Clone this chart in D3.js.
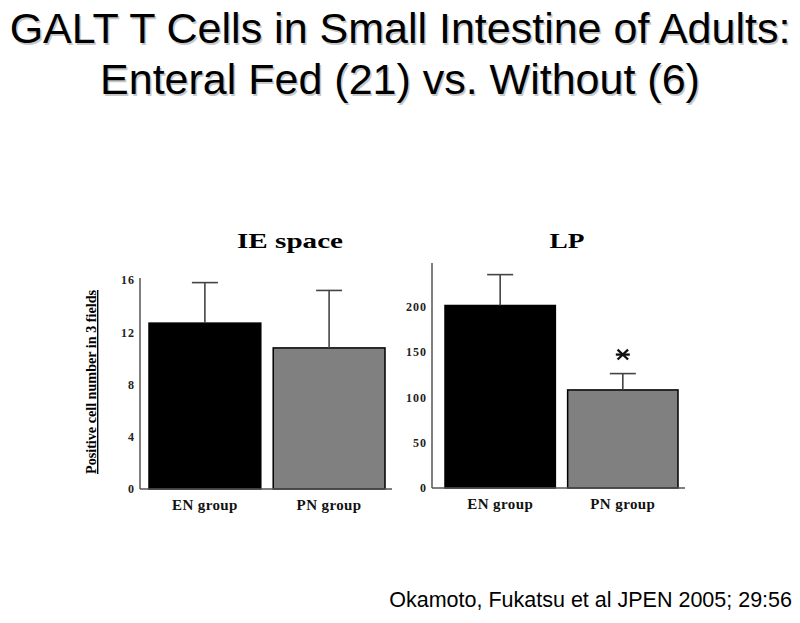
<!DOCTYPE html>
<html>
<head>
<meta charset="utf-8">
<script src="https://cdn.jsdelivr.net/npm/d3@7"></script>
<style>
  html, body { margin: 0; padding: 0; background: #fff; }
  svg { display: block; }
</style>
</head>
<body>
<svg id="chart" width="800" height="623"></svg>
<script>
// ---- data ----
const titleLines = ["GALT T Cells in Small Intestine of Adults:", "Enteral Fed (21) vs. Without (6)"];
const citation = "Okamoto, Fukatsu et al JPEN 2005; 29:56";
const categories = ["EN group", "PN group"];
const ieTitle = "IE space";
const ieMeans = [12.7, 10.8];
const ieErrTop = [15.8, 15.2];
const ieTicks = [0, 4, 8, 12, 16];
const lpTitle = "LP";
const lpMeans = [201, 108];
const lpErrTop = [235, 126];
const lpTicks = [0, 50, 100, 150, 200];
const lpSignificant = [false, true];
const yLabel = "Positive cell number in 3 fields";

const svg = d3.select("#chart");
const barColors = ["#000000", "#808080"];
const serif = "'Liberation Serif', 'Times New Roman', serif";

// ---- title ----
const titleG = svg.append("g");
titleLines.forEach((t, i) => {
  titleG.append("text")
    .attr("x", 401.5).attr("y", 44.5 + i * 51)
    .attr("text-anchor", "middle")
    .style("font-family", "'Liberation Sans', Arial, sans-serif")
    .style("font-size", "43px")
    .attr("fill", "#c8c8c8")
    .text(t);
  titleG.append("text")
    .attr("x", 400).attr("y", 43 + i * 51)
    .attr("text-anchor", "middle")
    .style("font-family", "'Liberation Sans', Arial, sans-serif")
    .style("font-size", "43px")
    .attr("fill", "#000")
    .text(t);
});

// ---- citation ----
svg.append("text")
  .attr("x", 792).attr("y", 607)
  .attr("text-anchor", "end")
  .style("font-family", "'Liberation Sans', Arial, sans-serif")
  .style("font-size", "21.5px")
  .attr("fill", "#000")
  .text(citation);

function panel(opts) {
  const g = svg.append("g");
  const y = d3.scaleLinear().domain(opts.domain).range([opts.y0, opts.y1]);
  const x = d3.scaleBand().domain(categories).range(opts.xRange).paddingInner(0.1).paddingOuter(0);

  // y axis
  const yAxis = d3.axisLeft(y).tickValues(opts.ticks).tickSize(0).tickPadding(5).tickFormat(d3.format("d"));
  const ay = g.append("g").attr("transform", `translate(${opts.axisX},0)`).call(yAxis);
  ay.select(".domain").remove();
  ay.selectAll("text")
    .style("font-family", serif).style("font-weight", "bold")
    .style("font-size", "12px").attr("letter-spacing", "1px").attr("fill", "#222");
  g.append("line")
    .attr("x1", opts.axisX).attr("x2", opts.axisX)
    .attr("y1", opts.axisTop).attr("y2", opts.y0)
    .attr("stroke", "#555").attr("stroke-width", 1.5);

  // bars
  g.selectAll("rect.bar").data(opts.means).join("rect")
    .attr("class", "bar")
    .attr("x", (d, i) => x(categories[i]))
    .attr("y", d => y(d))
    .attr("width", x.bandwidth())
    .attr("height", d => y(0) - y(d))
    .attr("fill", (d, i) => barColors[i])
    .attr("stroke", "#000").attr("stroke-width", 1.5);

  // error bars
  const cap = 26;
  opts.errTop.forEach((e, i) => {
    const cx = x(categories[i]) + x.bandwidth() / 2;
    g.append("line").attr("x1", cx).attr("x2", cx)
      .attr("y1", y(opts.means[i])).attr("y2", y(e))
      .attr("stroke", "#444").attr("stroke-width", 1.6);
    g.append("line").attr("x1", cx - cap / 2).attr("x2", cx + cap / 2)
      .attr("y1", y(e)).attr("y2", y(e))
      .attr("stroke", "#444").attr("stroke-width", 1.6);
    if (opts.sig && opts.sig[i]) {
      const sy = y(e) - 19, r = 7;
      const ag = g.append("g").attr("transform", `translate(${cx},${sy})`)
        .attr("stroke", "#111").attr("stroke-width", 2.3);
      ag.append("line").attr("x1", -r).attr("x2", r).attr("y1", 0).attr("y2", 0);
      ag.append("line").attr("x1", -r * 0.75).attr("x2", r * 0.75).attr("y1", -r * 0.7).attr("y2", r * 0.7);
      ag.append("line").attr("x1", -r * 0.75).attr("x2", r * 0.75).attr("y1", r * 0.7).attr("y2", -r * 0.7);
    }
  });

  // baseline
  g.append("line")
    .attr("x1", opts.axisX).attr("x2", opts.baseEnd)
    .attr("y1", opts.y0).attr("y2", opts.y0)
    .attr("stroke", "#555").attr("stroke-width", 1.5);

  // category labels
  const xAxis = d3.axisBottom(x).tickSize(0).tickPadding(10);
  const ax = g.append("g").attr("transform", `translate(0,${opts.y0})`).call(xAxis);
  ax.select(".domain").remove();
  ax.selectAll("text")
    .style("font-family", serif).style("font-weight", "bold")
    .style("font-size", "15px").attr("letter-spacing", "0.4px").attr("fill", "#111");

  // panel title
  g.append("text")
    .attr("x", opts.titleX).attr("y", 248)
    .attr("text-anchor", "middle")
    .style("font-family", serif).style("font-weight", "bold").style("font-size", "22px")
    .attr("textLength", opts.titleLen).attr("lengthAdjust", "spacingAndGlyphs")
    .text(opts.title);
  return g;
}

panel({
  title: ieTitle, titleX: 290, titleLen: 106,
  domain: [0, 16], y0: 489, y1: 280, axisTop: 278, axisX: 140, baseEnd: 392,
  xRange: [149, 385], ticks: ieTicks, means: ieMeans, errTop: ieErrTop
});

panel({
  title: lpTitle, titleX: 567, titleLen: 35,
  domain: [0, 250], y0: 488, y1: 261, axisTop: 263, axisX: 432, baseEnd: 685,
  xRange: [445, 678], ticks: lpTicks, means: lpMeans, errTop: lpErrTop, sig: lpSignificant
});

// y-axis label (left panel)
svg.append("text")
  .attr("transform", "translate(96,382) rotate(-90)")
  .attr("text-anchor", "middle")
  .style("font-family", serif).style("font-weight", "bold").style("font-size", "14px")
  .attr("text-decoration", "underline")
  .attr("textLength", 184).attr("lengthAdjust", "spacingAndGlyphs")
  .text(yLabel);
</script>
</body>
</html>
